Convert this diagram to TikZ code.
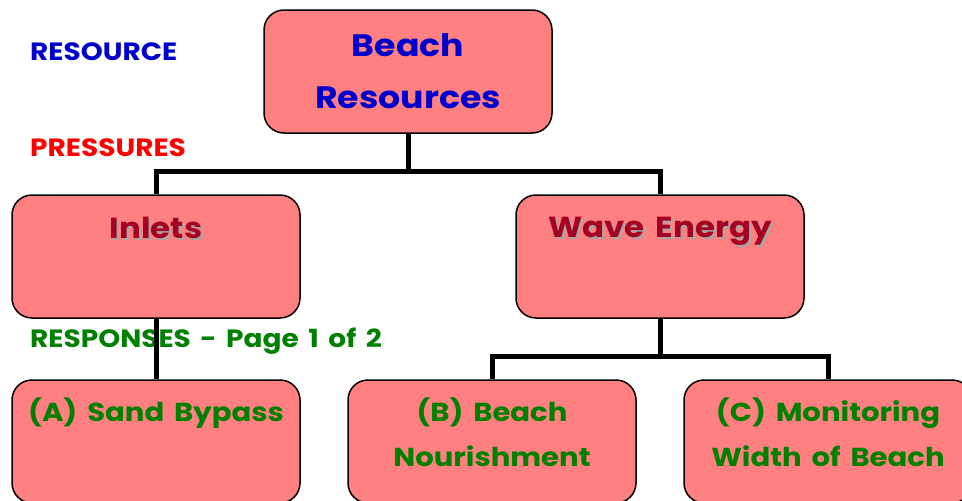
\documentclass[tikz,border=0pt]{standalone}
\usepackage{fontspec}
\setmainfont{Poppins}[FakeStretch=1.12, WordSpace=1.6]
\usepackage{xcolor}
\usetikzlibrary{positioning}
\definecolor{boxfill}{HTML}{FF8080}
\definecolor{resblue}{HTML}{0000CC}
\definecolor{presred}{HTML}{FF0000}
\definecolor{respgreen}{HTML}{008000}
\definecolor{titlered}{HTML}{A50021}
% text with a grey drop shadow
\newcommand{\shadowed}[1]{\makebox[0pt][l]{\hspace{2pt}\raisebox{-2pt}{\textcolor{gray!70}{#1}}}#1}

\begin{document}
\begin{tikzpicture}[x=1pt, y=-1pt, every node/.style={font=\bfseries}]
  \tikzset{
    box/.style={draw=black, line width=1.5pt, fill=boxfill, rounded corners=20pt,
      minimum width=288pt, minimum height=123pt, inner sep=0pt},
    conn/.style={line width=5pt},
    level/.style={anchor=west, inner sep=0pt, font=\bfseries\fontsize{25}{30}\selectfont},
    press/.style={text=titlered, inner sep=0pt, font=\bfseries\fontsize{29}{36}\selectfont},
    resp/.style={text=respgreen, align=center, inner sep=0pt,
      font=\bfseries\fontsize{26}{45}\selectfont},
  }
  \useasboundingbox (0,0) rectangle (962,501);
  \clip (0,0) rectangle (962,501);
  % ---------- LEVEL LABELS ----------
  \node[level, text=resblue] (lres) at (30,52) {RESOURCE};
  \node[level, text=presred] (lpress) at (30,148) {PRESSURES};
  \node[level, text=respgreen] (lresp) at (30,341) {RESPONSES - Page 1 of 2};
  % ---------- RESOURCE ----------
  \node[box, text=resblue, align=center, font=\bfseries\fontsize{31}{52}\selectfont]
    (res) at (408,71.5) {Beach\\Resources};
  % ---------- PRESSURES ----------
  \node[box] (inlets) at (156,256.5) {};
  \node[box] (wave) at (660,256.5) {};
  \foreach \b/\t in {inlets/Inlets, wave/Wave Energy}
    \node[press, below=23pt of \b.north] (t\b) {\shadowed{\t}};
  % ---------- RESPONSES ----------
  \node[box] (bypass) at (156,441.5) {};
  \node[box] (nourish) at (492,441.5) {};
  \node[box] (monitor) at (828,441.5) {};
  \node[resp, below=18pt of bypass.north] (tbypass) {(A) Sand Bypass};
  \node[resp, below=18pt of nourish.north] (tnourish) {(B) Beach\\Nourishment};
  \node[resp, below=18pt of monitor.north] (tmonitor) {(C) Monitoring\\Width of Beach};
  % ---------- CONNECTORS ----------
  \draw[conn] (res.south) -- ++(0,38) coordinate (j1) -| (inlets.north);
  \draw[conn] (j1) -| (wave.north);
  \draw[conn] (inlets.south) -- (bypass.north);
  \draw[conn] (wave.south) -- ++(0,38) coordinate (j2) -| (nourish.north);
  \draw[conn] (j2) -| (monitor.north);
\end{tikzpicture}
\end{document}
